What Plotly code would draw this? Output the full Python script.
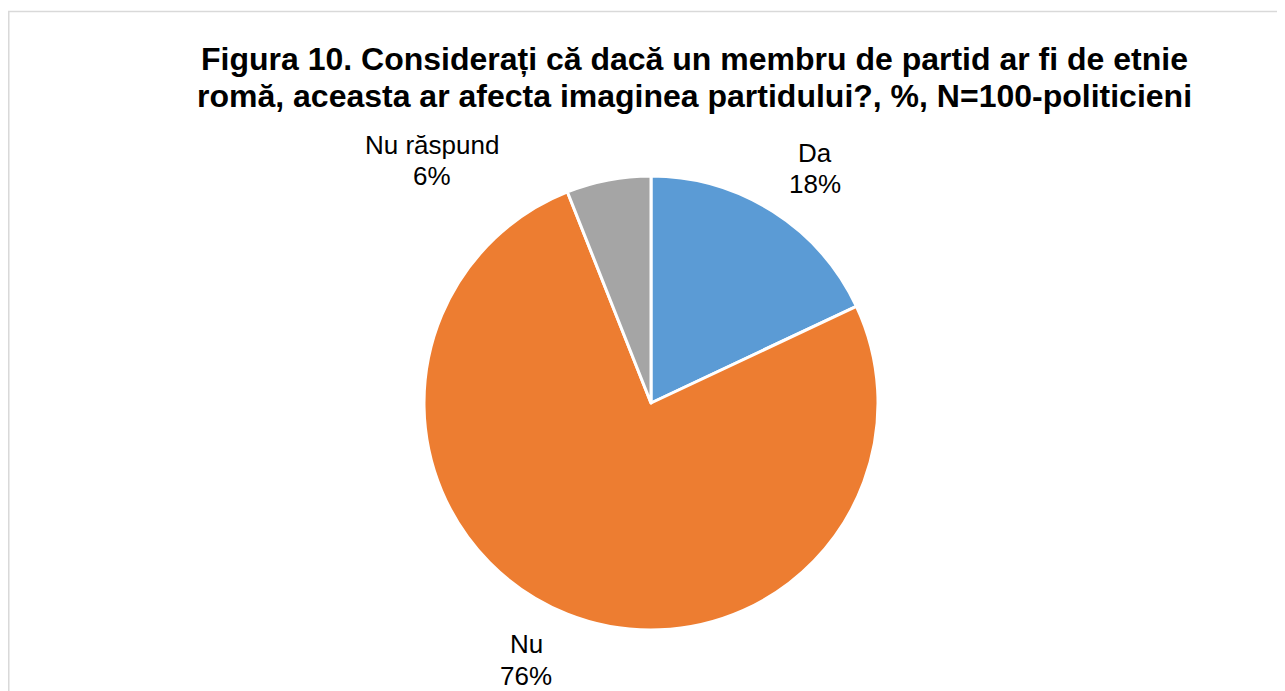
import plotly.graph_objects as go

# ── date ──────────────────────────────────────────────
categories = ["Da", "Nu", "Nu răspund"]
values = [18, 76, 6]
colors = ["#5B9BD5", "#ED7D31", "#A5A5A5"]

TITLE_LINES = [
    "Figura 10. Considerați că dacă un membru de partid ar fi de etnie",
    "romă, aceasta ar afecta imaginea partidului?, %, N=100-politicieni",
]

# pagina are o margine implicită de 8px în jurul graficului
OFF = 8
W, H = 1285 - OFF, 691 - OFF
FONT = "Liberation Sans, Arial, sans-serif"


def px(x):
    return (x - OFF) / W


def py(y):
    return 1 - (y - OFF) / H


# centrele etichetelor (pixeli în pagină): (x, y rând 1, y rând 2)
label_pos = {
    "Da": (815, 153, 184),
    "Nu": (526, 644, 676),
    "Nu răspund": (432, 145, 176),
}

fig = go.Figure(go.Pie(
    labels=categories,
    values=values,
    marker=dict(colors=colors, line=dict(color="white", width=3)),
    sort=False,
    direction="clockwise",
    rotation=0,
    textinfo="none",
    hoverinfo="label+percent",
    showlegend=False,
    domain=dict(x=[px(651 - 227), px(651 + 227)],
                y=[py(630), py(176)]),
))

annotations = []
for line, yy in zip(TITLE_LINES, (59, 96)):
    annotations.append(dict(
        text=f"<b>{line}</b>", x=px(694), y=py(yy), xref="paper", yref="paper",
        xanchor="center", yanchor="middle", showarrow=False,
        font=dict(size=32, color="#000000", family=FONT),
    ))

for cat, val in zip(categories, values):
    x, y1, y2 = label_pos[cat]
    for txt, yy in ((cat, y1), (f"{val}%", y2)):
        annotations.append(dict(
            text=txt, x=px(x), y=py(yy), xref="paper", yref="paper",
            xanchor="center", yanchor="middle", showarrow=False,
            font=dict(size=26, color="#000000", family=FONT),
        ))

fig.update_layout(
    width=W, height=H,
    margin=dict(l=0, r=0, t=0, b=0),
    paper_bgcolor="white",
    plot_bgcolor="white",
    annotations=annotations,
    shapes=[
        dict(type="line", xref="paper", yref="paper",
             x0=px(8), x1=1, y0=py(11.5), y1=py(11.5),
             line=dict(color="#D9D9D9", width=1.5)),
        dict(type="line", xref="paper", yref="paper",
             x0=px(8) + 0.0006, x1=px(8) + 0.0006, y0=0, y1=py(11.5),
             line=dict(color="#D9D9D9", width=1.5)),
    ],
)

fig.write_html("out.html")
